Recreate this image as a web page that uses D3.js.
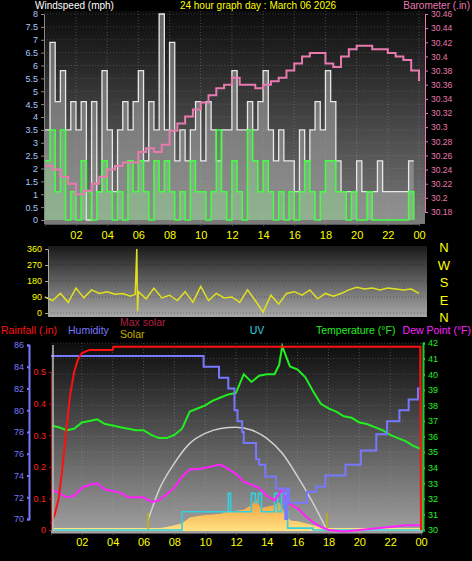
<!DOCTYPE html>
<html><head><meta charset="utf-8">
<script src="https://cdn.jsdelivr.net/npm/d3@7"></script>
<style>body{margin:0;background:#000}svg{display:block;font-family:"Liberation Sans",Arial,sans-serif}</style>
</head><body><svg width="472" height="561"></svg>
<script>
// wind, 20 minute samples from 00:00
const gust = [3.5,6.9,4.6, 5.8,3.5,4.6, 3.5,4.6,0, 4.6,1.1,5.8, 3.5,1.1,3.5, 4.6,3.5,4.6,
  5.8,2.3,4.6, 3.5,8.0,3.5, 6.9,2.3,3.5, 2.3,3.5,4.6, 2.3,4.6,3.5, 2.3,3.5,3.5,
  5.8,3.5,3.5, 4.6,3.5,4.6, 5.8,3.5,2.3, 3.5,2.3,2.3, 1.1,3.5,2.3, 3.5,4.6,3.5,
  5.8,4.6,2.3, 1.1,1.1,1.1, 2.3,1.1,1.1, 1.1,2.3,1.1, 1.1,1.1,1.1, 1.1,2.3,2.3];
const avgWind = [2.3,3.5,1.1, 3.5,0,1.1, 0,2.3,1.1, 0,1.1,2.3, 1.1,0,1.1, 0,2.3,1.1,
  2.3,1.1,0, 2.3,1.1,2.3, 1.1,0,1.1, 0,2.3,1.1, 1.1,0,1.1, 3.5,1.1,0,
  2.3,1.1,0, 3.5,2.3,1.1, 2.3,1.1,0, 1.1,0,1.1, 0,1.1,2.3, 1.1,0,1.1,
  2.3,2.3,1.1, 1.1,0,1.1, 0,0,1.1, 0,0,0, 0,0,0, 0,1.1,0];
// barometer, half hourly
const baro = [30.245,30.24,30.23,30.22,30.205,30.21,30.22,30.23,30.24,30.245,30.25,30.25,
  30.265,30.27,30.265,30.275,30.295,30.305,30.315,30.325,30.335,30.345,30.355,30.36,
  30.37,30.36,30.36,30.355,30.36,30.365,30.37,30.38,30.39,30.4,30.405,30.405,
  30.39,30.385,30.4,30.41,30.415,30.415,30.41,30.41,30.405,30.4,30.395,30.38,30.365];
// wind direction
const dirHours = [0,0.5,1,1.5,2,2.5,3,3.5,4,4.5,5,5.5,5.8,5.9,5.95,6,6.5,7,7.5,8,8.5,9,9.5,10,10.5,11,11.5,12,12.5,13,13.5,14,14.5,15,15.5,16,16.5,17,17.5,18,18.5,19,19.5,20,20.5,21,21.5,22,22.5,23,23.5,24];
const dirValues = [90,70,110,60,140,85,130,110,120,105,110,95,105,360,10,120,80,140,85,100,70,120,60,150,70,110,85,90,60,130,70,5,100,50,110,120,100,130,80,110,95,110,130,145,135,140,130,140,135,130,135,110];
// rainfall (cumulative)
const rainHours = [0,0.25,0.5,0.75,1,1.25,1.5,1.75,2,2.5,4,4.05,23.95,24];
const rainValues = [0.02,0.05,0.1,0.2,0.32,0.43,0.5,0.54,0.56,0.57,0.57,0.58,0.58,0];
// humidity steps
const humHours = [0,9.9,10.9,11.5,11.9,12.1,12.4,12.5,13.3,13.5,13.9,14.6,15.1,15.2,15.3,15.45,16.6,17.2,17.8,19.1,20.1,21.1,21.8,22.6,23.2,23.8,24];
const humValues = [85,84,83,82,80,79,78,77,75.5,75,73.9,72.8,71.5,70,72.8,71.5,72.5,73,74,75,76.3,77.8,79,80,81,82,82];
// temperature / dew point
const tHours = [0,0.5,1,1.5,2,2.5,3,3.5,4,4.5,5,5.5,6,6.5,7,7.5,8,8.5,9,9.5,10,10.5,11,11.5,12,12.5,13,13.5,14,14.5,14.8,15,15.3,15.5,16,16.5,17,17.5,18,18.5,19,19.5,20,20.5,21,21.5,22,22.5,23,23.5,24];
const tempValues = [36.7,36.6,36.4,36.5,36.9,37.0,37.1,36.8,36.7,36.6,36.5,36.4,36.4,36.1,35.9,35.9,36.1,36.5,37.6,37.8,38.0,38.3,38.5,38.7,38.8,40.0,39.5,39.9,40.0,40.0,40.6,41.8,41.0,40.5,40.3,39.8,38.9,38.1,37.8,37.6,37.3,37.2,36.9,36.8,36.6,36.4,36.1,35.9,35.7,35.4,35.2];
const dewHours = [0,0.5,1,1.5,2,2.5,3,3.5,4,4.5,5,5.5,6,6.5,7,7.5,8,8.5,9,9.5,10,10.5,11,11.5,12,12.5,13,13.5,14,14.5,15,15.3,15.6,16,16.5,17,17.5,18,19,20,21,22,23,24];
const dewValues = [32.6,32.4,32.1,32.2,32.7,32.9,33.0,32.6,32.5,32.4,32.1,32.1,32.1,31.8,31.9,32.3,32.7,33.4,33.9,33.9,34.0,34.1,34.2,33.9,33.6,33.1,32.9,32.7,32.2,31.9,32.6,31.8,31.6,31.4,30.9,30.5,30.2,30.0,29.9,30.0,30.1,30.2,30.3,30.3];
// solar
const maxSolarHours = [6.3,7,8,9,10,11,12,13,14,15,16,17,17.9];
const maxSolarValues = [32,128,214,278,310,326,330,321,294,246,171,86,0];
const solarHours = [6.3,6.5,7,7.5,8,8.5,9,9.5,10,10.5,11,11.5,12,12.5,13,13.3,13.6,14,14.5,14.8,15,15.3,15.6,16,16.5,17,17.5,18];
const solarValues = [0,3,6,10,15,22,40,45,48,50,52,60,62,65,80,100,70,75,80,90,70,40,30,28,22,15,8,2];
const uvHours = [0,8.5,11.5,11.65,13.0,13.25,13.45,13.65,14.5,14.7,14.95,15.2,15.35,17.0,24];
const uvValues = [0,1,2,1,2,1.5,2,1,2,1,2,1,0.1,0,0];
const timeTicks = [2,4,6,8,10,12,14,16,18,20,22,24];

const svg = d3.select("svg");
const defs = svg.append("defs");
function grad(id, top, bot) {
  const g = defs.append("linearGradient").attr("id", id).attr("x1",0).attr("x2",0).attr("y1",0).attr("y2",1);
  g.append("stop").attr("offset","0%").attr("stop-color",top);
  g.append("stop").attr("offset","100%").attr("stop-color",bot);
}
grad("bg1","#0c0c0c","#7a7a7a");
grad("bg2","#1a1a1a","#a8a8a8");
grad("bg3","#0c0c0c","#a0a0a0");
grad("sol","#f09a3a","#ffe080");
const hl = d => String(d % 24).padStart(2,"0");
const txt = (x,y,s,c,anchor,size) => svg.append("text").attr("x",x).attr("y",y).attr("fill",c)
  .attr("font-size",size||11).attr("text-anchor",anchor||"start").text(s);

// ---------- panel 1 ----------
const x1 = d3.scaleLinear([0,24],[44.8,419]);
const yW = d3.scaleLinear([0,8],[220,14]);
const yB = d3.scaleLinear([30.18,30.46],[212,14]);
svg.append("rect").attr("x",44).attr("y",11).attr("width",381).attr("height",213).attr("fill","url(#bg1)");
const g1 = svg.append("g");
g1.selectAll(".v").data(timeTicks).join("line").attr("x1",x1).attr("x2",x1).attr("y1",11).attr("y2",224)
  .attr("stroke","#aaa").attr("stroke-opacity",0.35).attr("stroke-dasharray","1,2");
g1.selectAll(".h").data(d3.range(0,8.01,0.5)).join("line").attr("x1",44).attr("x2",425).attr("y1",yW).attr("y2",yW)
  .attr("stroke","#aaa").attr("stroke-opacity",0.25).attr("stroke-dasharray","1,2");
const wt = (d,i) => i/3;
g1.append("path").datum(gust).attr("fill","#a0a0a0").attr("fill-opacity",0.6)
  .attr("d", d3.area().x((d,i)=>x1(wt(d,i))).y0(yW(0)).y1(d=>yW(d)).curve(d3.curveStepAfter));
g1.append("path").datum(gust).attr("fill","none").attr("stroke","#e8e8e8").attr("stroke-width",1.3)
  .attr("d", d3.line().x((d,i)=>x1(wt(d,i))).y(d=>yW(d)).curve(d3.curveStepAfter));
g1.append("path").datum(avgWind).attr("fill","#8ef08e").attr("fill-opacity",0.35)
  .attr("d", d3.area().x((d,i)=>x1(wt(d,i))).y0(yW(0)).y1(d=>yW(d)).curve(d3.curveStepAfter));
g1.append("path").datum(avgWind).attr("fill","none").attr("stroke","#44ff44").attr("stroke-width",1.5)
  .attr("d", d3.line().x((d,i)=>x1(wt(d,i))).y(d=>yW(d)).curve(d3.curveStepAfter));
g1.append("path").datum(baro).attr("fill","none").attr("stroke","#e87ab0").attr("stroke-width",2)
  .attr("d", d3.line().x((d,i)=>x1(i/2)).y(d=>yB(d)).curve(d3.curveStepAfter));
const aW = svg.append("g").attr("transform","translate(44,0)")
  .call(d3.axisLeft(yW).tickValues(d3.range(0,8.01,0.5)).tickFormat(d=>d).tickSize(3));
aW.selectAll("text").attr("fill","#a8c8ff").attr("font-size",9);
const aB = svg.append("g").attr("transform","translate(425,0)")
  .call(d3.axisRight(yB).tickValues(d3.range(30.18,30.461,0.02)).tickFormat(d=>+d.toFixed(2)).tickSize(3));
aB.selectAll("text").attr("fill","#e87ab0").attr("font-size",8.5);
aB.selectAll("line,path").attr("stroke","#e87ab0");
aW.selectAll("line,path").attr("stroke","#888");
const aT1 = svg.append("g").attr("transform","translate(0,224)")
  .call(d3.axisBottom(x1).tickValues(timeTicks).tickFormat(hl).tickSize(2));
aT1.selectAll("text").attr("fill","#ffff00").attr("font-size",11).attr("dy","0.9em");
aT1.selectAll("line,path").attr("stroke","#555");
txt(35,9,"Windspeed (mph)","#fff","start",10);
txt(258,9,"24 hour graph day : March 06 2026","#ffff00","middle",10);
txt(470,8.5,"Barometer (.in)","#e87ab0","end",10);

// ---------- panel 2 ----------
const yD = d3.scaleLinear([0,360],[313,249]);
svg.append("rect").attr("x",48).attr("y",246).attr("width",379).attr("height",71).attr("fill","url(#bg2)");
svg.selectAll(".dg").data([0,90,180,270,360]).join("line").attr("x1",48).attr("x2",427).attr("y1",yD).attr("y2",yD)
  .attr("stroke","#111").attr("stroke-opacity",0.35).attr("stroke-dasharray","1,2");
svg.append("path").datum(dirValues).attr("fill","none").attr("stroke","#e0e020").attr("stroke-width",1.5)
  .attr("d", d3.line().x((d,i)=>x1(dirHours[i])).y(d=>yD(d)));
const aD = svg.append("g").attr("transform","translate(48,0)")
  .call(d3.axisLeft(yD).tickValues([0,90,180,270,360]).tickSize(3));
aD.selectAll("text").attr("fill","#ffff00").attr("font-size",9);
aD.selectAll("line,path").attr("stroke","#aa9");
["N","W","S","E","N"].forEach((s,i)=>txt(444,252+i*17.5,s,"#ffff00","middle",13));

// ---------- panel 3 ----------
const x3 = d3.scaleLinear([0,24],[51,421]);
const yH = d3.scaleLinear([70,86],[519,345]);
const yR = d3.scaleLinear([0,0.5],[530,372]);
const yT = d3.scaleLinear([30,42],[530,343]);
const yS = d3.scaleLinear([0,600],[530,343]);
const yU = d3.scaleLinear([0,1],[530,511.7]);
svg.append("rect").attr("x",51).attr("y",343).attr("width",372).attr("height",190).attr("fill","url(#bg3)");
svg.selectAll(".v3").data(timeTicks).join("line").attr("x1",x3).attr("x2",x3).attr("y1",343).attr("y2",533)
  .attr("stroke","#aaa").attr("stroke-opacity",0.35).attr("stroke-dasharray","1,2");
svg.selectAll(".h3").data(d3.range(30,42.1,1)).join("line").attr("x1",51).attr("x2",423).attr("y1",yT).attr("y2",yT)
  .attr("stroke","#aaa").attr("stroke-opacity",0.25).attr("stroke-dasharray","1,2");
svg.append("rect").attr("x",51).attr("y",528).attr("width",370).attr("height",3).attr("fill","#ffe080");
svg.append("path").datum(solarValues).attr("fill","url(#sol)")
  .attr("d", d3.area().x((d,i)=>x3(solarHours[i])).y0(yS(0)).y1(d=>yS(d)));
svg.append("path").datum(maxSolarValues).attr("fill","none").attr("stroke","#d0d0d0").attr("stroke-width",1.5)
  .attr("d", d3.line().x((d,i)=>x3(maxSolarHours[i])).y(d=>yS(d)).curve(d3.curveMonotoneX));
svg.selectAll(".sl").data([6.3,17.9]).join("line").attr("x1",x3).attr("x2",x3).attr("y1",yS(0)).attr("y2",yS(55))
  .attr("stroke","#c8b000").attr("stroke-width",1.5);
svg.append("path").datum(uvValues).attr("fill","none").attr("stroke","#33d0e0").attr("stroke-width",1.6)
  .attr("d", d3.line().x((d,i)=>x3(uvHours[i])).y(d=>yU(d)).curve(d3.curveStepAfter));
svg.append("path").datum(dewValues).attr("fill","none").attr("stroke","#ff22ff").attr("stroke-width",2)
  .attr("d", d3.line().x((d,i)=>x3(dewHours[i])).y(d=>yT(d)));
svg.append("path").datum(tempValues).attr("fill","none").attr("stroke","#22ee22").attr("stroke-width",2)
  .attr("d", d3.line().x((d,i)=>x3(tHours[i])).y(d=>yT(d)));
svg.append("path").datum(humValues).attr("fill","none").attr("stroke","#7878ff").attr("stroke-width",2)
  .attr("d", d3.line().x((d,i)=>x3(humHours[i])).y(d=>yH(d)).curve(d3.curveStepAfter));
svg.append("path").datum(rainValues).attr("fill","none").attr("stroke","#ff1010").attr("stroke-width",2)
  .attr("d", d3.line().x((d,i)=>x3(rainHours[i])).y(d=>yR(d)));
svg.append("line").attr("x1",x3(0)+2).attr("x2",x3(0)+2).attr("y1",345).attr("y2",531).attr("stroke","#bbb").attr("stroke-width",1.5);
const aH = svg.append("g").attr("transform","translate(29,0)")
  .call(d3.axisLeft(yH).tickValues(d3.range(70,86.1,2)).tickSize(2));
aH.selectAll("text").attr("fill","#7878ff").attr("font-size",9);
aH.selectAll("line,path").attr("stroke","#7878ff").attr("stroke-width",2);
const aR = svg.append("g").attr("transform","translate(51,0)")
  .call(d3.axisLeft(yR).tickValues(d3.range(0,0.51,0.1)).tickFormat(d=>+d.toFixed(1)).tickSize(2));
aR.selectAll("text").attr("fill","#ff2020").attr("font-size",9);
aR.selectAll("line,path").attr("stroke","#aa2020");
const aT = svg.append("g").attr("transform","translate(423,0)")
  .call(d3.axisRight(yT).tickValues(d3.range(30,42.1,1)).tickSize(2));
aT.selectAll("text").attr("fill","#22ee22").attr("font-size",9);
aT.selectAll("line,path").attr("stroke","#22cc22").attr("stroke-width",2);
const aX3 = svg.append("g").attr("transform","translate(0,533)")
  .call(d3.axisBottom(x3).tickValues(timeTicks).tickFormat(hl).tickSize(2));
aX3.selectAll("text").attr("fill","#ffff00").attr("font-size",11).attr("dy","0.75em");
aX3.selectAll("line,path").attr("stroke","#555");
txt(1,334,"Rainfall (.in)","#ff1010","start",10.5);
txt(68,334,"Humidity","#7878ff","start",10.5);
txt(120,326,"Max solar","#b02040","start",10.5);
txt(120,338,"Solar","#c8b000","start",10.5);
txt(257,334,"UV","#33d0e0","middle",10.5);
txt(316,334,"Temperature (°F)","#22ee22","start",10.5);
txt(471,334,"Dew Point (°F)","#ff22ff","end",10.5);
</script></body></html>
